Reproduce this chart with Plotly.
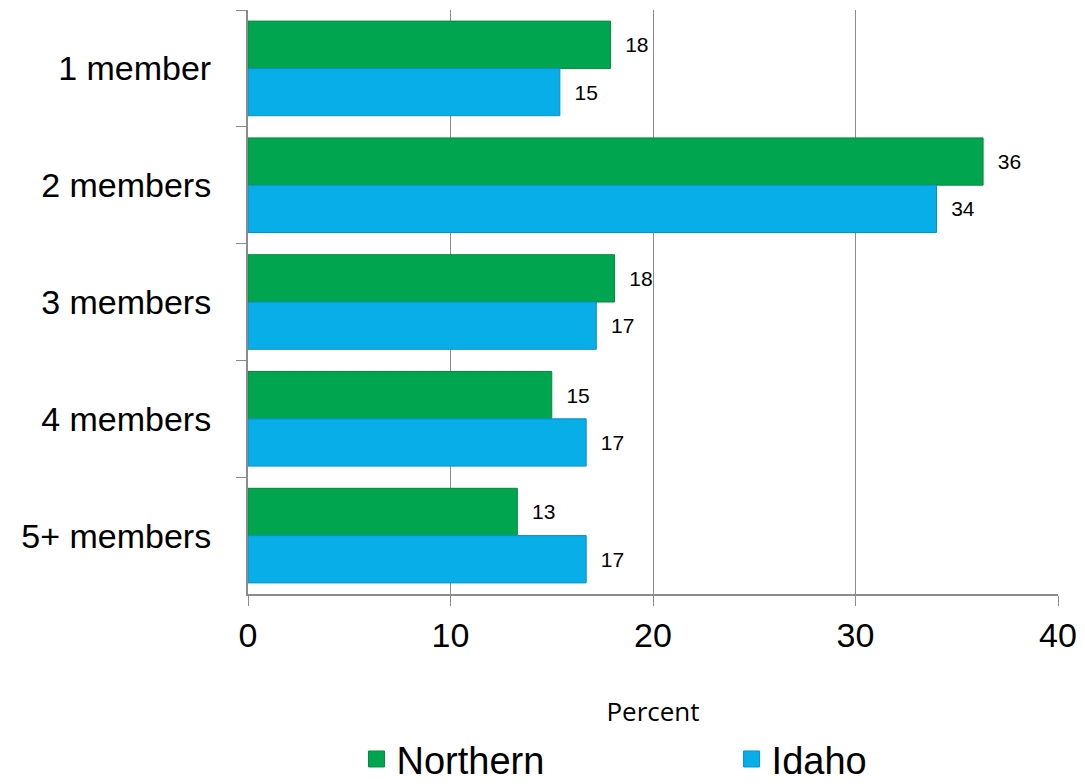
import plotly.graph_objects as go

categories = ['1 member', '2 members', '3 members', '4 members', '5+ members']
northern = [17.9, 36.3, 18.1, 15.0, 13.3]
idaho = [15.4, 34.0, 17.2, 16.7, 16.7]
x_ticks = [0, 10, 20, 30, 40]

GREEN = '#00a64f'
BLUE = '#08aee8'
GRID = '#8c8c8c'
FONT = 'Liberation Sans, Arial, sans-serif'

fig = go.Figure()

# bars (legend drawn with separate marker traces so the squares can be bigger)
fig.add_trace(go.Bar(
    y=categories,
    x=northern,
    name='Northern',
    orientation='h',
    marker=dict(color=GREEN, line=dict(color='#008a40', width=1)),
    text=[f'{v:.0f}' for v in northern],
    texttemplate='  %{text}',
    textposition='outside',
    textfont=dict(size=21, color='black', family=FONT),
    cliponaxis=False,
    showlegend=False
))

fig.add_trace(go.Bar(
    y=categories,
    x=idaho,
    name='Idaho',
    orientation='h',
    marker=dict(color=BLUE, line=dict(color='#0a8fc4', width=1)),
    text=[f'{v:.0f}' for v in idaho],
    texttemplate='  %{text}',
    textposition='outside',
    textfont=dict(size=21, color='black', family=FONT),
    cliponaxis=False,
    showlegend=False
))

fig.add_trace(go.Scatter(
    x=[None], y=[None], mode='markers', name='Northern',
    marker=dict(symbol='square', size=22, color=GREEN, line=dict(color='#008a40', width=1)),
    legend='legend'
))
fig.add_trace(go.Scatter(
    x=[None], y=[None], mode='markers', name='Idaho',
    marker=dict(symbol='square', size=22, color=BLUE, line=dict(color='#0a8fc4', width=1)),
    legend='legend2'
))

legend_style = dict(
    orientation='h',
    xanchor='left',
    y=-0.283,
    yanchor='middle',
    font=dict(size=38, family=FONT),
    bgcolor='rgba(0,0,0,0)'
)

fig.update_layout(
    width=1085,
    height=784,
    margin=dict(l=248, r=27, t=10, b=190, autoexpand=False),
    barmode='group',
    bargap=0.19,
    bargroupgap=0,
    plot_bgcolor='white',
    paper_bgcolor='white',
    font=dict(family=FONT, color='black'),
    showlegend=True,
    legend=dict(x=0.134, **legend_style),
    legend2=dict(x=0.597, **legend_style),
    xaxis=dict(
        range=[0, 40],
        tickvals=x_ticks,
        showgrid=True,
        gridcolor=GRID,
        gridwidth=1,
        zeroline=False,
        showline=True,
        linecolor=GRID,
        linewidth=2,
        ticks='outside',
        ticklen=10,
        tickcolor=GRID,
        tickfont=dict(size=34, family=FONT),
        title=dict(text='Percent', font=dict(size=26, family='Open Sans'), standoff=50)
    ),
    yaxis=dict(
        autorange='reversed',
        showline=True,
        linecolor=GRID,
        linewidth=2,
        ticks='outside',
        tickson='boundaries',
        ticklen=10,
        tickcolor=GRID,
        ticklabelstandoff=28,
        tickfont=dict(size=34, family=FONT),
        showgrid=False
    )
)

# drop the default page margin so the figure fills the window exactly
fig.write_html('out.html', config={'displayModeBar': False},
               post_script="document.body.style.margin='0';")
